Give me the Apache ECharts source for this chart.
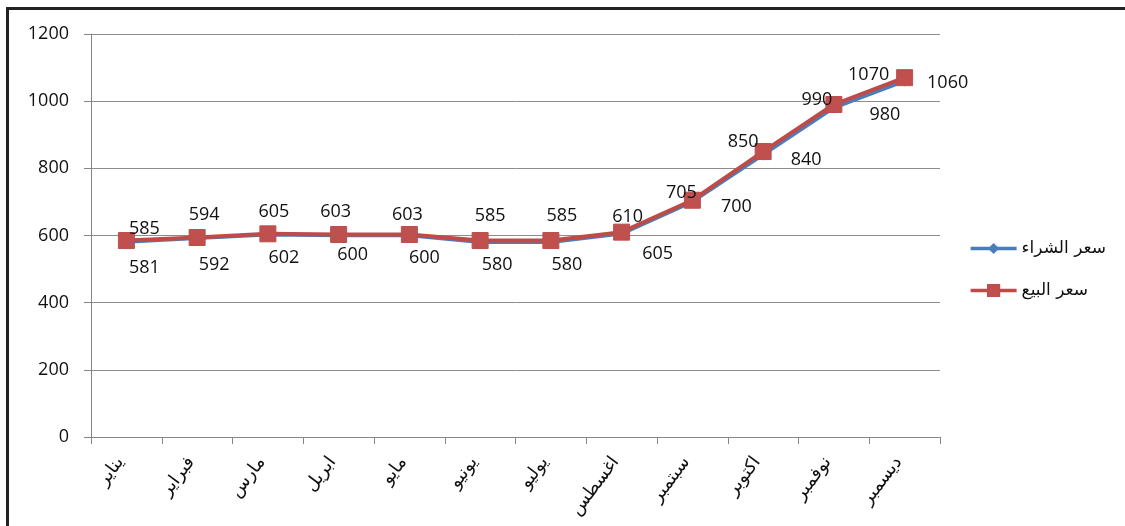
<!DOCTYPE html>
<html>
<head>
<meta charset="utf-8">
<script src="https://cdn.jsdelivr.net/npm/echarts@6/dist/echarts.min.js"></script>
<style>
  html, body { margin: 0; padding: 0; background: #fff; }
  #chart { width: 1125px; height: 526px; }
  .frame {
    position: absolute;
    left: 6px;
    top: 7px;
    right: 0;
    bottom: 0;
    border-top: 3px solid #222;
    border-left: 3px solid #222;
    pointer-events: none;
  }
</style>
</head>
<body>
<div id="chart"></div>
<div class="frame"></div>
<script>
const months = ['يناير', 'فبراير', 'مارس', 'ابريل', 'مايو', 'يونيو', 'يوليو', 'اغسطس', 'سبتمبر', 'اكتوبر', 'نوفمبر', 'ديسمبر']
const buyPrice = [581, 592, 602, 600, 600, 580, 580, 605, 700, 840, 980, 1060]
const sellPrice = [585, 594, 605, 603, 603, 585, 585, 610, 705, 850, 990, 1070]
const buyName = 'سعر الشراء'
const sellName = 'سعر البيع'

// hand-placed data labels (offset of label centre from the marker, px)
const buyLabelOffsets = [[18, 26], [17, 27], [16, 23], [14, 19], [15, 22], [17, 23], [16, 23], [36, 20], [44, 5], [43, 5], [51, 7], [43, 2]]
const sellLabelOffsets = [[18, -12], [7, -23], [6, -22], [-3, -23], [-2, -20], [10, -25], [11, -25], [6, -15], [-11, -7], [-20, -10], [-17, -5], [-36, -3]]

const chart = echarts.init(document.getElementById('chart'))

const labelFont = { fontFamily: 'Open Sans, Liberation Sans, sans-serif', fontSize: 18, color: '#111' }

function withLabels(values, offsets) {
  return values.map((v, i) => ({ value: v, label: { offset: offsets[i] } }))
}

chart.setOption({
  animation: false,
  grid: { left: 91, right: 185, top: 34, bottom: 89 },
  legend: {
    orient: 'vertical',
    right: 14,
    top: 235,
    itemGap: 25,
    itemWidth: 46,
    itemHeight: 14,
    lineStyle: { width: 3.5 },
    textStyle: { fontFamily: 'DejaVu Sans, sans-serif', fontSize: 17, color: '#111' },
    data: [buyName, sellName]
  },
  xAxis: {
    type: 'category',
    data: months,
    boundaryGap: true,
    axisLine: { lineStyle: { color: '#868686', width: 1 } },
    axisTick: { show: true, length: 7, lineStyle: { color: '#868686' } },
    axisLabel: {
      rotate: 53,
      margin: 14,
      padding: [0, 10, 0, 0],
      fontFamily: 'DejaVu Sans, sans-serif',
      fontSize: 18,
      color: '#111'
    }
  },
  yAxis: {
    type: 'value',
    min: 0,
    max: 1200,
    interval: 200,
    axisLine: { show: true, lineStyle: { color: '#868686' } },
    axisTick: { show: true, length: 7, lineStyle: { color: '#868686' } },
    splitLine: { lineStyle: { color: '#8c8c8c', width: 1 } },
    axisLabel: { ...labelFont, margin: 22, formatter: v => String(v) }
  },
  series: [
    {
      name: buyName,
      type: 'line',
      data: withLabels(buyPrice, buyLabelOffsets),
      symbol: 'diamond',
      symbolSize: 11,
      z: 2,
      lineStyle: { color: '#4a7ebb', width: 3.5 },
      itemStyle: { color: '#4a7ebb' },
      label: { show: true, position: 'inside', align: 'center', verticalAlign: 'middle', ...labelFont }
    },
    {
      name: sellName,
      type: 'line',
      data: withLabels(sellPrice, sellLabelOffsets),
      symbol: 'rect',
      symbolSize: 16,
      z: 3,
      lineStyle: { color: '#be4b48', width: 4 },
      itemStyle: { color: '#c0504d', borderColor: '#b9504d', borderWidth: 1 },
      label: { show: true, position: 'inside', align: 'center', verticalAlign: 'middle', ...labelFont }
    }
  ]
})
</script>
</body>
</html>
